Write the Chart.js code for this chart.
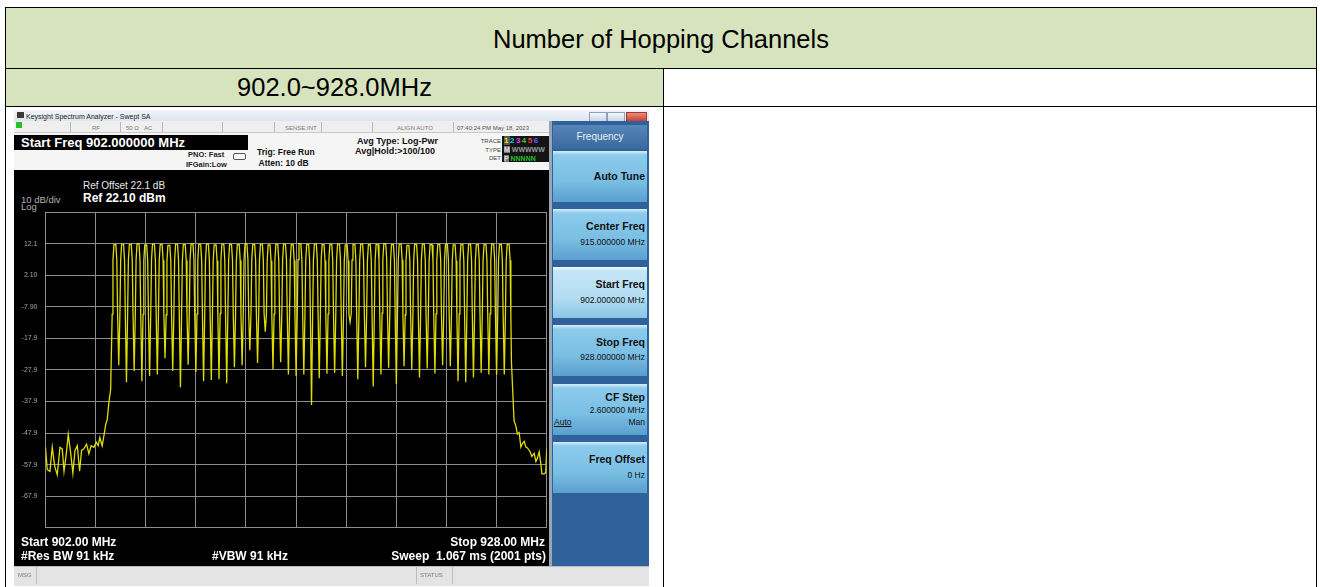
<!DOCTYPE html>
<html>
<head>
<meta charset="utf-8">
<script src="https://cdn.jsdelivr.net/npm/chart.js@4.4.0/dist/chart.umd.min.js"></script>
<style>
  body { margin: 0; width: 1320px; height: 587px; background: #fff; position: relative; overflow: hidden; font-family: "Liberation Sans", Arial, sans-serif; }
  .a { position: absolute; }
  .t { position: absolute; white-space: nowrap; line-height: 1; }
  .cell { position: absolute; box-sizing: border-box; border: 1px solid #000; }
  .green { background: #d6e3bc; }
  .btn { position: absolute; left: 553px; width: 94px; height: 51px; box-sizing: border-box;
         background: linear-gradient(#d8eefa 0px, #8ccbec 4px, #79bee3 60%, #5b9fcf 100%); }
  .btn.sel { background: linear-gradient(#f2faff 0px, #c4e5f6 4px, #b3ddf2 60%, #8cc4e6 100%); }
  .btn .h { position: absolute; right: 2px; font-weight: bold; font-size: 10.5px; color: #111; white-space: nowrap; line-height: 1; }
  .btn .v { position: absolute; right: 2px; font-size: 8.5px; color: #111; white-space: nowrap; line-height: 1; }
  .st { position: absolute; font-size: 6px; color: #7a7a7a; white-space: nowrap; line-height: 1; }
  .sep { position: absolute; top: 122px; width: 1px; height: 10px; background: #b8b8b8; }
  .w { color: #fff; font-weight: bold; font-size: 12px; }
</style>
</head>
<body>
<!-- table -->
<div class="cell green" style="left:5px;top:7px;width:1312px;height:62px;"></div>
<div class="t" style="left:0;width:1322px;top:27px;text-align:center;font-size:25.5px;color:#000;">Number of Hopping Channels</div>
<div class="cell green" style="left:5px;top:68px;width:659px;height:39px;"></div>
<div class="cell" style="left:663px;top:68px;width:654px;height:39px;"></div>
<div class="t" style="left:5px;width:659px;top:75px;text-align:center;font-size:25.5px;color:#000;">902.0~928.0MHz</div>
<div class="cell" style="left:5px;top:106px;width:659px;height:484px;"></div>
<div class="cell" style="left:663px;top:106px;width:654px;height:484px;"></div>

<!-- analyzer screenshot -->
<div class="a" style="left:14px;top:110px;width:635px;height:475px;background:#d4d4d4;"></div>
<div class="a" style="left:14px;top:110px;width:635px;height:11px;background:linear-gradient(#f2f5fa,#dde5f0);"></div>
<div class="a" style="left:17px;top:112px;width:7px;height:6px;background:#3a3a3a;"></div>
<div class="t" style="left:26px;top:112.5px;font-size:7px;color:#222;">Keysight Spectrum Analyzer - Swept SA</div>
<div class="a" style="left:589px;top:112px;width:16px;height:8px;border:1px solid #8aa0bb;background:linear-gradient(#f4f7fb,#c9d6e6);"></div>
<div class="a" style="left:607px;top:112px;width:16px;height:8px;border:1px solid #8aa0bb;background:linear-gradient(#f4f7fb,#c9d6e6);"></div>
<div class="a" style="left:626px;top:112px;width:19px;height:8px;border:1px solid #9b3a30;background:linear-gradient(#ec8a7c,#c8402f);"></div>

<div class="a" style="left:14px;top:121px;width:537px;height:11px;background:#efefef;border-bottom:1px solid #c8c8c8;"></div>
<div class="a" style="left:16px;top:122px;width:6px;height:6px;background:#27c22b;"></div>
<div class="sep" style="left:70px;"></div><div class="sep" style="left:120px;"></div>
<div class="sep" style="left:162px;"></div><div class="sep" style="left:222px;"></div>
<div class="sep" style="left:274px;"></div><div class="sep" style="left:321px;"></div>
<div class="sep" style="left:372px;"></div><div class="sep" style="left:453px;"></div>
<div class="st" style="left:92px;top:125px;">RF</div>
<div class="st" style="left:126px;top:125px;">50 Ω</div>
<div class="st" style="left:144px;top:125px;">AC</div>
<div class="st" style="left:285px;top:125px;">SENSE:INT</div>
<div class="st" style="left:397px;top:125px;">ALIGN AUTO</div>
<div class="st" style="left:457px;top:125px;color:#555;">07:40:24 PM May 18, 2023</div>

<div class="a" style="left:14px;top:133px;width:537px;height:37px;background:#f5f5f5;"></div>
<div class="a" style="left:14px;top:135px;width:234px;height:15px;background:#000;"></div>
<div class="t" style="left:21px;top:136px;font-size:13px;font-weight:bold;color:#fff;">Start Freq 902.000000 MHz</div>
<div class="t" style="left:188px;top:150.5px;font-size:7.5px;font-weight:bold;color:#222;">PNO: Fast</div>
<div class="t" style="left:186px;top:160.5px;font-size:7.5px;font-weight:bold;color:#222;">IFGain:Low</div>
<div class="a" style="left:233px;top:153px;width:11px;height:5px;border:1px solid #555;border-radius:2px;"></div>
<div class="t" style="left:257px;top:147.5px;font-size:8.5px;font-weight:bold;color:#111;">Trig: Free Run</div>
<div class="t" style="left:258.5px;top:158.5px;font-size:8.5px;font-weight:bold;color:#111;">Atten: 10 dB</div>
<div class="t" style="left:357px;top:137px;font-size:9px;font-weight:bold;color:#111;">Avg Type: Log-Pwr</div>
<div class="t" style="left:355px;top:147px;font-size:9px;font-weight:bold;color:#111;">Avg|Hold:&gt;100/100</div>
<div class="t" style="left:470px;width:31px;text-align:right;top:138px;font-size:6px;color:#444;">TRACE</div>
<div class="t" style="left:470px;width:31px;text-align:right;top:146.5px;font-size:6px;color:#444;">TYPE</div>
<div class="t" style="left:470px;width:31px;text-align:right;top:155px;font-size:6px;color:#444;">DET</div>
<div class="a" style="left:502px;top:136px;width:47px;height:26px;background:#141414;"></div>
<div class="t" style="left:504px;top:137px;font-size:8px;font-weight:bold;letter-spacing:1.5px;">
  <span style="color:#e6e600;background:#555;">1</span><span style="color:#00d8e0;">2</span><span style="color:#e040e0;">3</span><span style="color:#30d030;">4</span><span style="color:#f04040;">5</span><span style="color:#6060ff;">6</span>
</div>
<div class="t" style="left:504px;top:146px;font-size:7px;font-weight:bold;color:#9a9a9a;"><span style="background:#777;color:#ddd;">M</span> WWWWW</div>
<div class="t" style="left:504px;top:154.5px;font-size:7px;font-weight:bold;color:#25c025;"><span style="background:#777;color:#ddd;">P</span> NNNNN</div>

<div class="a" style="left:14px;top:170px;width:535px;height:396px;background:#000;"></div>
<div class="t" style="left:83px;top:180.5px;font-size:10px;color:#e8e8e8;">Ref Offset 22.1 dB</div>
<div class="t" style="left:21px;top:194.5px;font-size:9.5px;color:#b0b0b0;">10 dB/div</div>
<div class="t w" style="left:83px;top:192px;">Ref 22.10 dBm</div>
<div class="t" style="left:21px;top:202px;font-size:9.5px;color:#b0b0b0;">Log</div>
<canvas id="sa" width="534" height="340" style="position:absolute;left:14px;top:200px;"></canvas>
<div class="t w" style="left:21px;top:536px;">Start 902.00 MHz</div>
<div class="t w" style="left:21px;top:549.5px;">#Res BW 91 kHz</div>
<div class="t w" style="left:212px;top:549.5px;">#VBW 91 kHz</div>
<div class="t w" style="left:345px;width:200px;text-align:right;top:536px;">Stop 928.00 MHz</div>
<div class="t w" style="left:346px;width:200px;text-align:right;top:549.5px;white-space:pre;">Sweep  1.067 ms (2001 pts)</div>

<div class="a" style="left:549px;top:121px;width:100px;height:445px;background:#2f629a;"></div>
<div class="a" style="left:549px;top:121px;width:3px;height:445px;background:#9aa6b4;"></div>
<div class="a" style="left:553px;top:125px;width:94px;height:24px;background:linear-gradient(#5686b8,#3a6a9e);"></div>
<div class="t" style="left:553px;width:94px;text-align:center;top:132px;font-size:10px;color:#e6eef8;">Frequency</div>
<div class="btn" style="top:151px;"><div class="h" style="top:20px;">Auto Tune</div></div>
<div class="btn" style="top:208.5px;"><div class="h" style="top:12px;">Center Freq</div><div class="v" style="top:29px;">915.000000 MHz</div></div>
<div class="btn sel" style="top:267px;"><div class="h" style="top:12px;">Start Freq</div><div class="v" style="top:29px;">902.000000 MHz</div></div>
<div class="btn" style="top:325px;"><div class="h" style="top:12px;">Stop Freq</div><div class="v" style="top:28px;">928.000000 MHz</div></div>
<div class="btn" style="top:383.5px;"><div class="h" style="top:8px;">CF Step</div><div class="v" style="top:22px;">2.600000 MHz</div>
  <div class="v" style="top:34px;right:auto;left:1px;text-decoration:underline;">Auto</div><div class="v" style="top:34px;">Man</div></div>
<div class="btn" style="top:442px;"><div class="h" style="top:12px;">Freq Offset</div><div class="v" style="top:29px;">0 Hz</div></div>

<div class="a" style="left:14px;top:566px;width:635px;height:19px;background:#e4e4e4;border-top:1px solid #bcbcbc;"></div>
<div class="a" style="left:14px;top:567px;width:22px;height:17px;border-right:1px solid #bcbcbc;"></div>
<div class="st" style="left:18px;top:572px;">MSG</div>
<div class="a" style="left:416px;top:567px;width:35px;height:17px;border-left:1px solid #bcbcbc;border-right:1px solid #bcbcbc;"></div>
<div class="st" style="left:420px;top:572px;">STATUS</div>

<script>
const xGridMHz = [902.0, 904.6, 907.2, 909.8, 912.4, 915.0, 917.6, 920.2, 922.8, 925.4, 928.0]
const yGridDbm = [22.1, 12.1, 2.1, -7.9, -17.9, -27.9, -37.9, -47.9, -57.9, -67.9, -77.9]
const yTickLabels = ['', '12.1', '2.10', '-7.90', '-17.9', '-27.9', '-37.9', '-47.9', '-57.9', '-67.9', '']

// hopping channels
const channelMHz = [
  905.6, 906.0, 906.4, 906.8, 907.2, 907.6, 908.0, 908.4, 908.8, 909.2,
  909.6, 910.0, 910.4, 910.8, 911.2, 911.6, 912.0, 912.4, 912.8, 913.2,
  913.6, 914.0, 914.4, 914.8, 915.2, 915.6, 916.0, 916.4, 916.8, 917.2,
  917.6, 918.0, 918.4, 918.8, 919.2, 919.6, 920.0, 920.4, 920.8, 921.2,
  921.6, 922.0, 922.4, 922.8, 923.2, 923.6, 924.0, 924.4, 924.8, 925.2,
  925.6, 926.0
]
const peakDbm = [
  11.8, 12.0, 11.9, 12.1, 11.7, 12.0, 11.9, 11.6, 12.0, 11.8,
  12.1, 11.9, 12.0, 11.7, 12.0, 11.9, 11.8, 12.1, 11.9, 12.0,
  11.7, 11.9, 12.0, 11.8, 12.1, 11.9, 12.0, 11.8, 11.9, 12.0,
  11.7, 11.9, 12.0, 11.8, 11.9, 12.1, 11.8, 12.0, 11.6, 11.9,
  12.0, 11.8, 11.9, 12.0, 11.7, 11.9, 12.0, 11.8, 11.9, 12.0,
  11.8, 11.9
]
// dip between neighbouring channels
const valleyDbm = [
  -26.4, -31.8, -28.2, -31.5, -29.8, -29.3, -24.2, -28.2, -33.4, -26.2, -28.5, -31.5,
  -31.1, -30.8, -32.1, -27.0, -26.4, -21.6, -25.7, -15.8, -27.7, -25.4, -29.3, -29.8, -29.3,
  -39.0, -30.5, -29.1, -28.8, -29.8, -12.7, -30.8, -27.0, -33.1, -29.3, -27.2, -32.3, -26.7,
  -27.7, -30.3, -27.4, -29.0, -26.4, -26.7, -31.5, -31.8, -30.3, -28.8, -29.3, -29.5, -29.3
]
// shape of one channel around its centre
const profileOffsetMHz = [-0.14, -0.1, -0.05, 0.05, 0.1, 0.14]
const profileDropDb = [22, 5, 0, 0, 5, 22]

const lowEdgeMHz = [
  902.0, 902.09, 902.23, 902.35, 902.48, 902.61, 902.75, 902.87, 902.96, 903.08,
  903.18, 903.31, 903.42, 903.53, 903.65, 903.77, 903.87, 903.99, 904.13, 904.25,
  904.37, 904.51, 904.63, 904.73, 904.82, 904.94, 905.03, 905.12, 905.2, 905.29,
  905.38, 905.42
]
const lowEdgeDbm = [
  -52.4, -59.5, -60.0, -52.4, -58.5, -61.1, -52.4, -52.9, -60.0, -54.4,
  -48.3, -54.4, -60.6, -53.4, -51.9, -60.0, -53.4, -52.9, -51.4, -54.4,
  -51.9, -52.4, -50.8, -51.9, -49.3, -51.9, -48.8, -45.2, -43.7, -38.1,
  -34.0, -22.0
]
const highEdgeMHz = [
  926.17, 926.28, 926.31, 926.40, 926.48, 926.57, 926.66, 926.74, 926.83, 926.92,
  927.0, 927.14, 927.23, 927.35, 927.44, 927.52, 927.61, 927.70, 927.75, 927.87,
  927.95, 928.0
]
const highEdgeDbm = [
  -25.2, -40.5, -44.1, -45.6, -48.2, -47.7, -52.3, -51.2, -50.5, -52.3,
  -52.6, -53.8, -55.3, -54.3, -56.9, -55.8, -53.8, -57.9, -60.8, -60.8,
  -60.4, -52.8
]

const buildTrace = () => {
  const pts = []
  lowEdgeMHz.forEach((f, i) => pts.push({ x: f, y: lowEdgeDbm[i] }))
  channelMHz.forEach((f, i) => {
    profileOffsetMHz.forEach((d, k) => pts.push({ x: f + d, y: peakDbm[i] - profileDropDb[k] }))
    if (i < valleyDbm.length) pts.push({ x: (f + channelMHz[i + 1]) / 2, y: valleyDbm[i] })
  })
  highEdgeMHz.forEach((f, i) => pts.push({ x: f, y: highEdgeDbm[i] }))
  return pts
}

const gridColor = '#8e8e8e'

new Chart(document.getElementById('sa'), {
  type: 'line',
  data: {
    datasets: [
      {
        data: buildTrace(),
        borderColor: '#dede00',
        borderWidth: 1.3,
        pointRadius: 0,
        tension: 0
      }
    ]
  },
  options: {
    responsive: false,
    animation: false,
    devicePixelRatio: 1,
    layout: { padding: { top: 7.5, right: 1.3, bottom: 7, left: 0 } },
    plugins: { legend: { display: false }, tooltip: { enabled: false } },
    scales: {
      x: {
        type: 'linear',
        min: 902,
        max: 928,
        afterBuildTicks: (scale) => { scale.ticks = xGridMHz.map((v) => ({ value: v })) },
        afterFit: (scale) => { scale.height = 0 },
        ticks: { display: false },
        grid: { color: gridColor, drawTicks: false },
        border: { color: gridColor }
      },
      y: {
        min: -77.9,
        max: 22.1,
        afterBuildTicks: (scale) => { scale.ticks = yGridDbm.map((v) => ({ value: v })) },
        afterFit: (scale) => { scale.width = 31.5 },
        ticks: {
          padding: 8,
          color: '#a4a4a4',
          font: { family: 'Liberation Sans', size: 7 },
          callback: (value) => {
            const i = yGridDbm.findIndex((v) => Math.abs(v - value) < 0.01)
            return i < 0 ? '' : yTickLabels[i]
          }
        },
        grid: { color: gridColor, drawTicks: false },
        border: { color: gridColor }
      }
    }
  }
})
</script>
</body>
</html>
